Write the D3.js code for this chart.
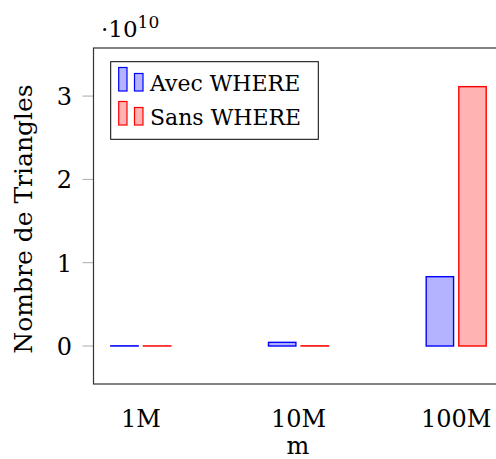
<!DOCTYPE html>
<html>
<head>
<meta charset="utf-8">
<script src="https://cdn.jsdelivr.net/npm/d3@7"></script>
<style>
  body { margin: 0; background: #fff; }
  svg text { font-family: "DejaVu Serif", serif; fill: #000; }
</style>
</head>
<body>
<div id="chart"></div>
<script>
// data, in units of 10^10 triangles
var categories = ["1M", "10M", "100M"];
var seriesNames = ["Avec WHERE", "Sans WHERE"];
var avecWhere = [0.002, 0.044, 0.832];
var sansWhere = [0.001, 0.002, 3.113];
var yTicks = [0, 1, 2, 3];

var width = 496, height = 459;
var plot = {left: 93.5, right: 503.5, top: 48, bottom: 384};

var svg = d3.select("#chart").append("svg")
    .attr("width", width)
    .attr("height", height);

var x = d3.scalePoint()
    .domain(categories)
    .range([plot.left, plot.right])
    .padding(0.3);

var xInner = d3.scaleBand()
    .domain(seriesNames)
    .range([-30, 30])
    .paddingInner(0.16);

var y = d3.scaleLinear()
    .domain([-0.456, 3.577])
    .range([plot.bottom, plot.top]);

var fills = ["#b3b3ff", "#ffb3b3"];
var strokes = ["#0000ff", "#ff0000"];

// y ticks (outside, grey)
svg.selectAll(".ytick")
    .data(yTicks)
    .enter().append("line")
    .attr("x1", plot.left - 11)
    .attr("x2", plot.left)
    .attr("y1", function(d) { return y(d); })
    .attr("y2", function(d) { return y(d); })
    .attr("stroke", "#aaa")
    .attr("stroke-width", 1);

svg.selectAll(".ylabel")
    .data(yTicks)
    .enter().append("text")
    .attr("x", 72)
    .attr("y", function(d) { return y(d) + 9; })
    .attr("text-anchor", "end")
    .attr("font-size", "24px")
    .text(function(d) { return d; });

// bars
var series = [avecWhere, sansWhere];
series.forEach(function(values, s) {
    svg.selectAll(".bar" + s)
        .data(values)
        .enter().append("rect")
        .attr("x", function(d, i) { return x(categories[i]) + xInner(seriesNames[s]); })
        .attr("width", xInner.bandwidth())
        .attr("y", function(d) { return y(d); })
        .attr("height", function(d) { return y(0) - y(d); })
        .attr("fill", fills[s])
        .attr("stroke", strokes[s])
        .attr("stroke-width", 1.4);
});

// frame
svg.append("rect")
    .attr("x", plot.left)
    .attr("y", plot.top)
    .attr("width", plot.right - plot.left)
    .attr("height", plot.bottom - plot.top)
    .attr("fill", "none")
    .attr("stroke", "#333")
    .attr("stroke-width", 1.2);

// x labels
svg.selectAll(".xlabel")
    .data(categories)
    .enter().append("text")
    .attr("x", function(d) { return x(d); })
    .attr("y", 427)
    .attr("text-anchor", "middle")
    .attr("font-size", "24px")
    .text(function(d) { return d; });

svg.append("text")
    .attr("x", 298)
    .attr("y", 454)
    .attr("text-anchor", "middle")
    .attr("font-size", "24px")
    .text("m");

svg.append("text")
    .attr("transform", "translate(32," + 219 + ") rotate(-90)")
    .attr("text-anchor", "middle")
    .attr("font-size", "25px")
    .text("Nombre de Triangles");

// scale factor label
var sf = svg.append("text")
    .attr("x", 101)
    .attr("y", 36.5)
    .attr("font-size", "23px");
sf.append("tspan").text("\u00b710");
sf.append("tspan")
    .attr("font-size", "17px")
    .attr("dy", -9)
    .text("10");

// legend
var legend = svg.append("g");
legend.append("rect")
    .attr("x", 110.7)
    .attr("y", 61.7)
    .attr("width", 207.6)
    .attr("height", 77.6)
    .attr("fill", "#fff")
    .attr("stroke", "#000")
    .attr("stroke-width", 1);

var rows = [91, 125];
seriesNames.forEach(function(name, s) {
    var base = rows[s];
    legend.append("rect")
        .attr("x", 118.7).attr("y", base - 23.5)
        .attr("width", 8.3).attr("height", 23.5)
        .attr("fill", fills[s]).attr("stroke", strokes[s]).attr("stroke-width", 1.2);
    legend.append("rect")
        .attr("x", 134.5).attr("y", base - 17.5)
        .attr("width", 8.5).attr("height", 17.5)
        .attr("fill", fills[s]).attr("stroke", strokes[s]).attr("stroke-width", 1.2);
    legend.append("text")
        .attr("x", 150)
        .attr("y", base)
        .attr("font-size", "22px")
        .text(name);
});
</script>
</body>
</html>
